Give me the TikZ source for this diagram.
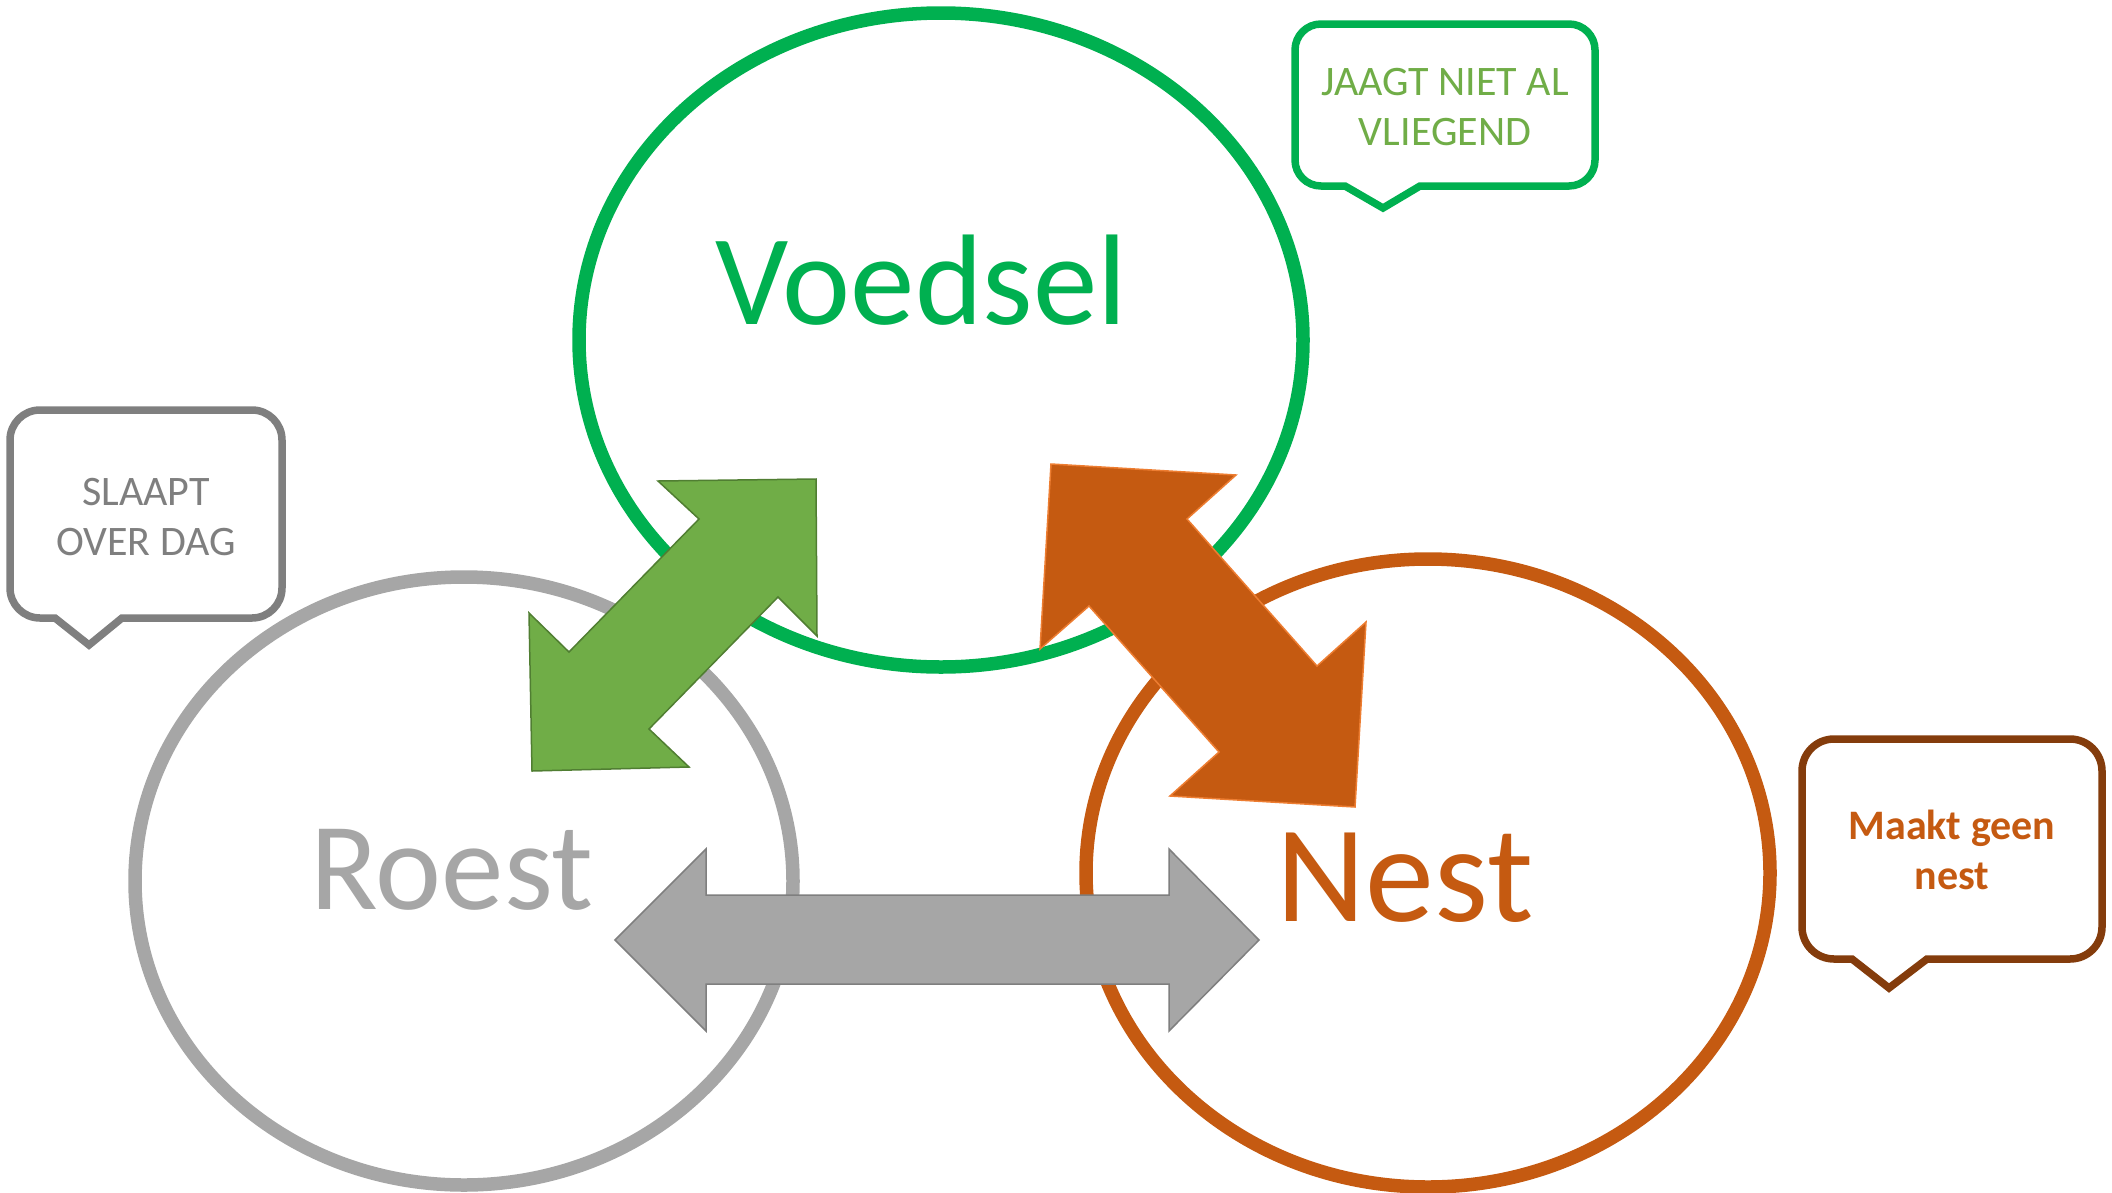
\documentclass[tikz,border=0pt]{standalone}
\usepackage{fontspec}
\setmainfont{Carlito}
\usetikzlibrary{shapes.geometric}

\definecolor{groen}{HTML}{00B050}
\definecolor{lichtgroen}{HTML}{70AD47}
\definecolor{donkergroen}{HTML}{507E32}
\definecolor{oranje}{HTML}{C55A11}
\definecolor{lichtoranje}{HTML}{ED7D31}
\definecolor{bruin}{HTML}{843C0C}
\definecolor{grijs}{HTML}{A6A6A6}
\definecolor{donkergrijs}{HTML}{7F7F7F}

\begin{document}
\begin{tikzpicture}[x=1pt, y=-1pt,
    kring/.style={ellipse, draw, line width=13.5pt, fill=white, inner sep=0pt},
    wolk/.style={line width=7.5pt, fill=white, line join=miter},
    wolktekst/.style={align=center, font=\fontsize{42}{50}\selectfont},
    pijl/.style={line width=1.5pt, line join=miter}]
    \useasboundingbox (0,0) rectangle (2112,1192);

    \node[kring, draw=groen, minimum width=724pt, minimum height=654pt] (voedsel) at (941,340) {};
    \node[kring, draw=grijs, minimum width=658pt, minimum height=608pt] (roest) at (464,881) {};
    \node[kring, draw=oranje, minimum width=684pt, minimum height=628pt] (nest) at (1428,873) {};

    \node[anchor=base, text=groen, font=\fontsize{129}{150}\selectfont] (voedseltekst) at (921,324) {Voedsel};
    \node[anchor=base, text=grijs, font=\fontsize{125}{150}\selectfont] (roesttekst) at (452,909) {Roest};
    \node[anchor=base, text=oranje, font=\fontsize{138}{160}\selectfont] (nesttekst) at (1405,921) {Nest};

    \draw[wolk, draw=donkergrijs] (55,618) -- (40,618) arc[start angle=90, end angle=180, radius=30] -- (10,440) arc[start angle=180, end angle=270, radius=30] -- (252,410) arc[start angle=270, end angle=360, radius=30] -- (282,588) arc[start angle=0, end angle=90, radius=30] -- (122,618) -- (89,645) -- cycle;
    \draw[wolk, draw=groen] (1345,186) -- (1321,186) arc[start angle=90, end angle=180, radius=26] -- (1295,50) arc[start angle=180, end angle=270, radius=26] -- (1569,24) arc[start angle=270, end angle=360, radius=26] -- (1595,160) arc[start angle=0, end angle=90, radius=26] -- (1420,186) -- (1383,208) -- cycle;
    \draw[wolk, draw=bruin] (1852,959) -- (1834,959) arc[start angle=90, end angle=180, radius=32] -- (1802,771) arc[start angle=180, end angle=270, radius=32] -- (2070,739) arc[start angle=270, end angle=360, radius=32] -- (2102,927) arc[start angle=0, end angle=90, radius=32] -- (1927,959) -- (1889,988) -- cycle;

    \node[wolktekst, text=donkergrijs] (slaapt) at (146,517) {SLAAPT\\OVER DAG};
    \node[wolktekst, text=lichtgroen] (jaagt) at (1445,107) {JAAGT NIET AL\\VLIEGEND};
    \node[wolktekst, text=oranje, font=\fontsize{42}{50}\selectfont\bfseries] (maakt) at (1952,850) {Maakt geen\\nest};

    % pijlen tekenen
    \filldraw[pijl, fill=lichtgroen, draw=donkergroen] (816,479) -- (817,636) -- (778,597) -- (649,729) -- (689,767) -- (532,771) -- (529,613) -- (569,652) -- (699,519) -- (658,481) -- cycle;
    \filldraw[pijl, fill=oranje, draw=lichtoranje] (1051,464) -- (1236,475) -- (1187,519) -- (1317,666) -- (1366,622) -- (1355,807) -- (1170,796) -- (1219,752) -- (1089,606) -- (1040,649) -- cycle;
    \filldraw[pijl, fill=grijs, draw=donkergrijs] (615,940) -- (706,849) -- (706,895) -- (1169,895) -- (1169,849) -- (1259,940) -- (1169,1031) -- (1169,984) -- (706,984) -- (706,1031) -- cycle;
\end{tikzpicture}
\end{document}
